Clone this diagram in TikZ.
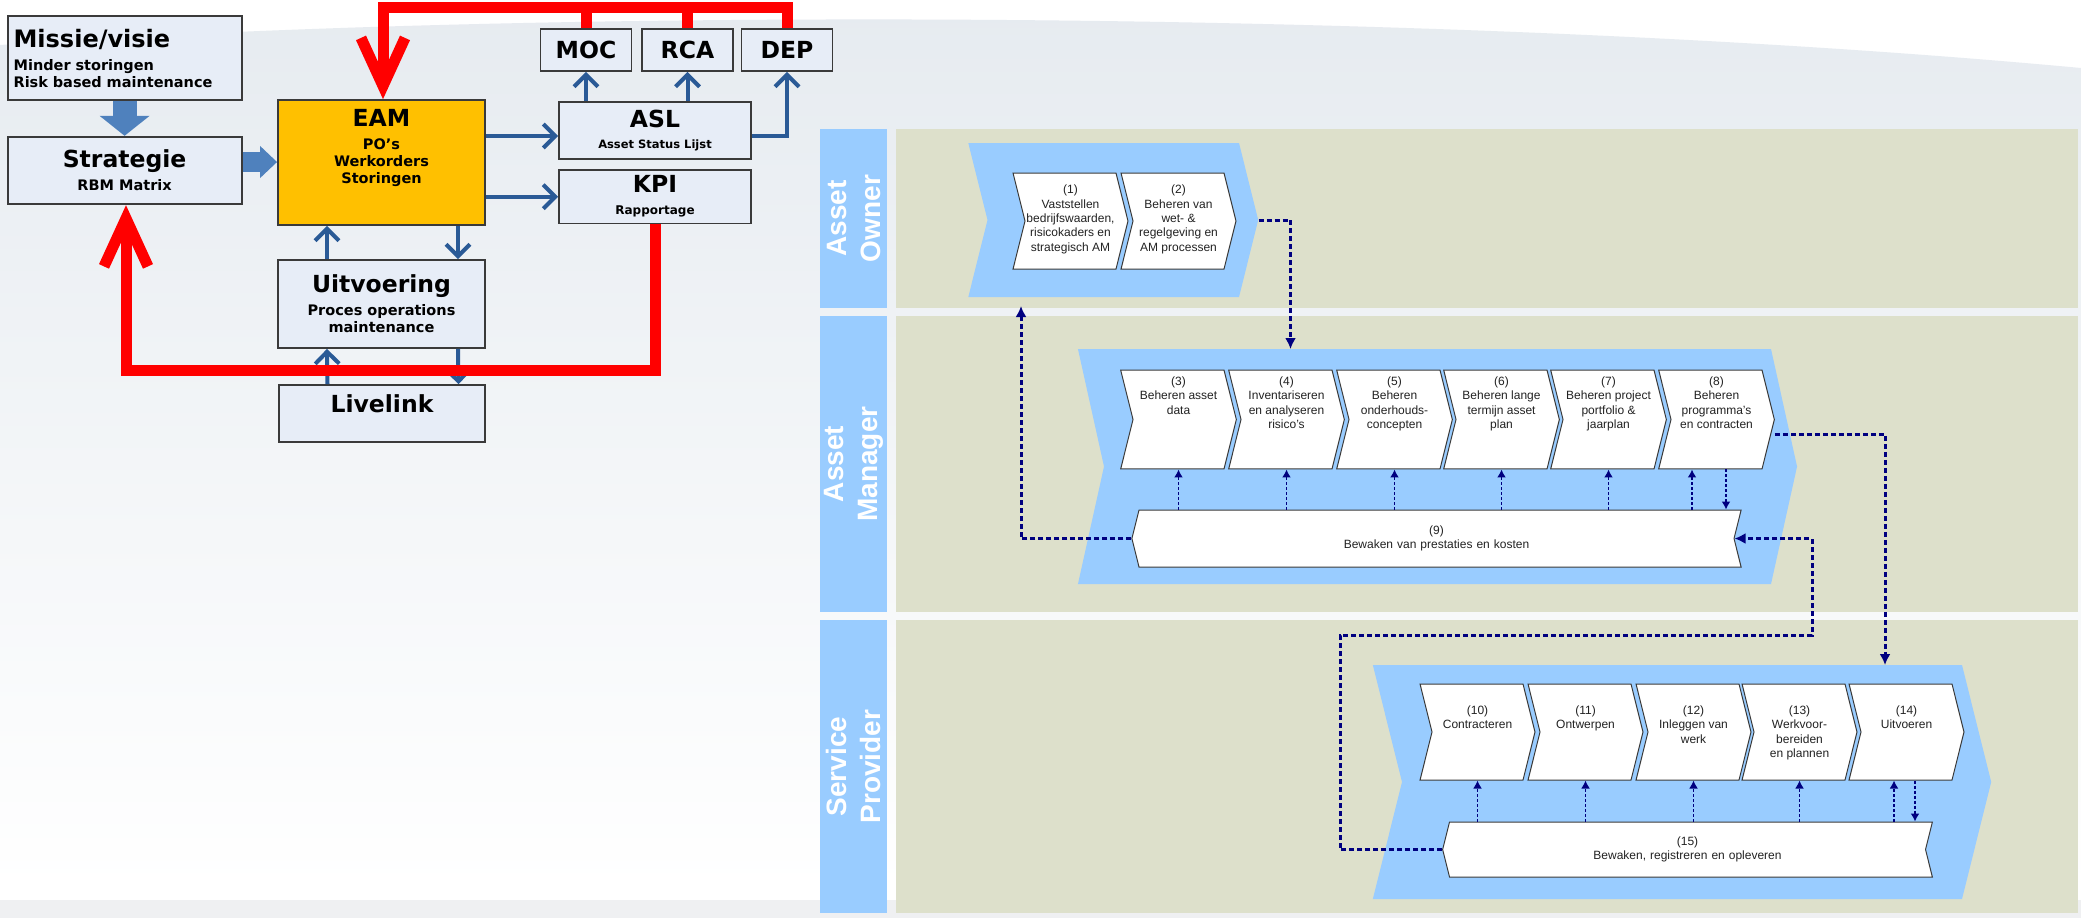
\documentclass[tikz,border=0pt]{standalone}
\usepackage{fontspec}
\setmainfont{DejaVu Sans}
\newfontfamily\arialf{Liberation Sans}
\usetikzlibrary{arrows.meta,positioning,shapes.symbols,calc}
\definecolor{boxfill}{HTML}{E7EDF7}
\definecolor{boxline}{HTML}{3A3A3A}
\definecolor{eamgold}{HTML}{FFC000}
\definecolor{arrblue}{HTML}{2A5A96}
\definecolor{fatblue}{HTML}{4F81BD}
\definecolor{bgtop}{HTML}{E6EBF0}
\definecolor{bgstrip}{HTML}{EFF0F2}
\definecolor{lanebg}{HTML}{DDE0CB}
\definecolor{laneblue}{HTML}{99CCFF}
\definecolor{dotnavy}{HTML}{000080}
\definecolor{txtgrey}{HTML}{222222}
\newcommand{\setfs}[2]{\fontsize{#1}{#2}\selectfont}
\newcommand{\steptext}[2]{\parbox[c][#1][t]{45.5pt}{\centering #2}}

\begin{document}
\begin{tikzpicture}[
  x=0.5pt,y=-0.5pt,
  box/.style={draw=boxline,line width=0.9pt,fill=boxfill,align=center,
              inner sep=3pt,font=\bfseries\setfs{7.25}{8.5}},
  tagbox/.style={box,font=\bfseries\setfs{11.75}{12},minimum width=45.5pt,minimum height=21pt},
  ar/.style={draw=arrblue,line width=2pt,-{Straight Barb[length=6pt,width=12pt]}},
  fat/.style={draw=fatblue,line width=12pt,-{Triangle[length=10pt,width=24.5pt]}},
  fatr/.style={draw=fatblue,line width=10pt,-{Triangle[length=8.5pt,width=15.5pt]}},
  fbline/.style={draw=red,line width=5.5pt},
  fbarrow/.style={fbline,-{Straight Barb[length=24pt,width=22pt]}},
  lanehd/.style={fill=laneblue,rotate=90,align=center,text=white,inner sep=1pt,
                 font=\arialf\bfseries\setfs{14}{17}},
  lanefill/.style={fill=lanebg},
  chev/.style={signal,signal from=west,signal to=east,signal pointer angle=152,
               fill=laneblue,inner xsep=0pt},
  stepbox/.style={signal,signal from=west,signal to=east,signal pointer angle=152,
                  draw=boxline,line width=0.5pt,fill=white,inner xsep=0pt,
                  minimum height=48pt,text=txtgrey,font=\arialf\setfs{6}{7.2}},
  barbox/.style={signal,signal from=east,signal to=west,signal pointer angle=152,
                 draw=boxline,line width=0.5pt,fill=white,inner xsep=0pt,
                 align=center,text=txtgrey,font=\arialf\setfs{6}{7.2}},
  flow/.style={draw=dotnavy,line width=1.5pt,dash pattern=on 2.5pt off 1.5pt,
               -{Latex[length=5.5pt,width=5.5pt]}},
  upflow/.style={draw=dotnavy,line width=0.8pt,dash pattern=on 1.5pt off 1pt,
                 -{Latex[length=4pt,width=4.5pt]}},
]

% ---- Background
\useasboundingbox (0,0) rectangle (2081,918);
\fill[white] (0,0) rectangle (2081,918);
\shade[top color=bgtop,bottom color=white]
  (0,45) .. controls (500,10) and (1400,5) .. (2081,68) -- (2081,890) -- (0,890) -- cycle;
\fill[bgstrip] (0,900) rectangle (2081,918);

% ---- EAM overview (left)
\node[box,text width=111pt,align=left,minimum height=42pt] (missie) at (124.6,58)
     {{\setfs{12}{12}Missie/visie}\\[3pt]Minder storingen\\Risk based maintenance};
\node[box,minimum width=117pt,minimum height=33.8pt] (strat) at (124.6,170.5)
     {{\setfs{11.75}{12}Strategie}\\[3pt]RBM Matrix};
\node[box,fill=eamgold,minimum width=103.5pt,minimum height=62.5pt] (eam) at (381.5,162.5)
     {\parbox[c][53pt][t]{96pt}{\centering{\setfs{11.75}{12}EAM}\\[3pt]PO’s\\Werkorders\\Storingen}};
\node[tagbox] (moc) at (586,50) {MOC};
\node[tagbox] (rca) at (687.5,50) {RCA};
\node[tagbox] (dep) at (787,50) {DEP};
\node[box,minimum width=96pt,minimum height=28.8pt] (asl) at (655,130.5)
     {{\setfs{11.75}{12}ASL}\\[2pt]{\setfs{5.75}{7}Asset Status Lijst}};
\node[box,minimum width=96pt,minimum height=26pt] (kpi) at (655,196.7)
     {{\setfs{11.75}{12}KPI}\\[2.5pt]{\setfs{6}{7}Rapportage}};
\node[box,minimum width=103.5pt,minimum height=44pt] (uitv) at (381.5,304)
     {{\setfs{11.75}{12}Uitvoering}\\[3pt]Proces operations\\maintenance};
\node[box,minimum width=103pt,minimum height=28.5pt,text depth=9.5pt] (live) at (382,413.5)
     {\setfs{11.75}{12}Livelink};

% ---- Arrows (left)
\draw[fat] (missie) -- (strat);
\draw[fatr] ([yshift=4.25pt]strat.east) -- ([yshift=4.25pt]strat.east -| eam.west);
\draw[ar] ([yshift=-2.75pt]asl.west -| eam.east) -- ([yshift=-2.75pt]asl.west);
\draw[ar] (kpi.west -| eam.east) -- (kpi.west);
\draw[ar] (asl.north -| moc) -- (moc);
\draw[ar] (asl.north -| rca) -- (rca);
\draw[ar] ([yshift=-2.75pt]asl.east) -| (dep);
\draw[ar] ([xshift=-27.25pt]uitv.north) -- ([xshift=-27.25pt]eam.south);
\draw[ar] ([xshift=38.25pt]eam.south) -- ([xshift=38.25pt]uitv.north);
\draw[ar] ([xshift=-27.25pt]live.north) -- ([xshift=-27.25pt]uitv.south);
\draw[ar] ([xshift=38.25pt]uitv.south) -- ([xshift=38.25pt]live.north);

% ---- Feedback loops
\coordinate (rtop) at (383,7.5);
\coordinate (rbot) at (126,370.5);
\draw[fbline] (moc.north) -- (moc.north |- rtop);
\draw[fbline] (rca.north) -- (rca.north |- rtop);
\draw[fbarrow] (dep.north) |- (rtop) -- (eam.north -| rtop);
\draw[fbarrow] (kpi.south) |- (rbot) -- (strat.south -| rbot);

% ---- Swimlanes (right)
\fill[lanefill] (896,129) rectangle (2078,308);
\fill[lanefill] (896,316) rectangle (2078,612);
\fill[lanefill] (896,620) rectangle (2078,913);
\node[lanehd,minimum width=89.5pt,minimum height=33.5pt] (ownhd) at (853.5,218.5) {Asset\\Owner};
\node[lanehd,minimum width=148pt,minimum height=33.5pt] (mgrhd) at (853.5,464) {Asset\\Manager};
\node[lanehd,minimum width=146.5pt,minimum height=33.5pt] (srvhd) at (853.5,766.5) {Service\\Provider};

\node[chev,text width=125.75pt,minimum height=77pt] (ownchev) at (1113.25,220) {};
\node[chev,signal pointer angle=155,text width=333.5pt,minimum height=117.5pt] (mgrchev) at (1437.5,466.5) {};
\node[chev,text width=280pt,minimum height=117pt] (srvchev) at (1682,782) {};

% ---- Asset owner steps
\node[stepbox] (b1) at (1070.5,221)
     {\steptext{36pt}{(1)\\Vaststellen\\bedrijfswaarden,\\risicokaders en\\strategisch AM}};
\node[stepbox] (b2) at (1178.5,221)
     {\steptext{36pt}{(2)\\Beheren van\\wet- \&\\regelgeving en\\AM processen}};

% ---- Asset manager steps
\node[stepbox] (b3) at (1178.5,419.5) {\steptext{42.8pt}{(3)\\Beheren asset\\data}};
\node[stepbox] (b4) at (1286.5,419.5) {\steptext{42.8pt}{(4)\\Inventariseren\\en analyseren\\risico’s}};
\node[stepbox] (b5) at (1394.5,419.5) {\steptext{42.8pt}{(5)\\Beheren\\onderhouds-\\concepten}};
\node[stepbox] (b6) at (1501.5,419.5) {\steptext{42.8pt}{(6)\\Beheren lange\\termijn asset\\plan}};
\node[stepbox] (b7) at (1608.5,419.5) {\steptext{42.8pt}{(7)\\Beheren project\\portfolio \&\\jaarplan}};
\node[stepbox] (b8) at (1716.5,419.5) {\steptext{42.8pt}{(8)\\Beheren\\programma’s\\en contracten}};
\node[barbox,text width=297.5pt,minimum height=28.5pt] (b9) at (1436.5,538.5)
     {(9)\\Bewaken van prestaties en kosten};

% ---- Service provider steps
\node[stepbox] (b10) at (1477.5,732) {\steptext{26.4pt}{(10)\\Contracteren}};
\node[stepbox] (b11) at (1585.5,732) {\steptext{26.4pt}{(11)\\Ontwerpen}};
\node[stepbox] (b12) at (1693.5,732) {\steptext{26.4pt}{(12)\\Inleggen van\\werk}};
\node[stepbox] (b13) at (1799.5,732) {\steptext{26.4pt}{(13)\\Werkvoor-\\bereiden\\en plannen}};
\node[stepbox] (b14) at (1906.5,732) {\steptext{26.4pt}{(14)\\Uitvoeren}};
\node[barbox,text width=238pt,minimum height=27.5pt] (b15) at (1687.5,849.5)
     {(15)\\Bewaken, registreren en opleveren};

% ---- Dotted connectors
\coordinate (mgrin) at (1290.5,349);
\coordinate (ownin) at (1021,306);
\coordinate (srvin) at (1885,665);
\coordinate (lp1) at (1340,635);
\coordinate (lp2) at (1812,538.5);
\draw[flow] (ownchev.east) -| (mgrin);
\draw[flow] (b9.west) -| (ownin);
\draw[flow] ([yshift=-7.25pt]b8.east) -| (srvin);
\draw[flow] (b15.west) -| (lp1) -| (lp2) -- (b9.east);

\draw[upflow] (b3.south |- b9.north) -- (b3.south);
\draw[upflow] (b4.south |- b9.north) -- (b4.south);
\draw[upflow] (b5.south |- b9.north) -- (b5.south);
\draw[upflow] (b6.south |- b9.north) -- (b6.south);
\draw[upflow] (b7.south |- b9.north) -- (b7.south);
\draw[upflow] ([xshift=-12.25pt]b8.south |- b9.north) -- ([xshift=-12.25pt]b8.south);
\draw[upflow] ([xshift=4.75pt]b8.south) -- ([xshift=4.75pt]b8.south |- b9.north);

\draw[upflow] (b10.south |- b15.north) -- (b10.south);
\draw[upflow] (b11.south |- b15.north) -- (b11.south);
\draw[upflow] (b12.south |- b15.north) -- (b12.south);
\draw[upflow] (b13.south |- b15.north) -- (b13.south);
\draw[upflow] ([xshift=-6.25pt]b14.south |- b15.north) -- ([xshift=-6.25pt]b14.south);
\draw[upflow] ([xshift=4.25pt]b14.south) -- ([xshift=4.25pt]b14.south |- b15.north);

\end{tikzpicture}
\end{document}
